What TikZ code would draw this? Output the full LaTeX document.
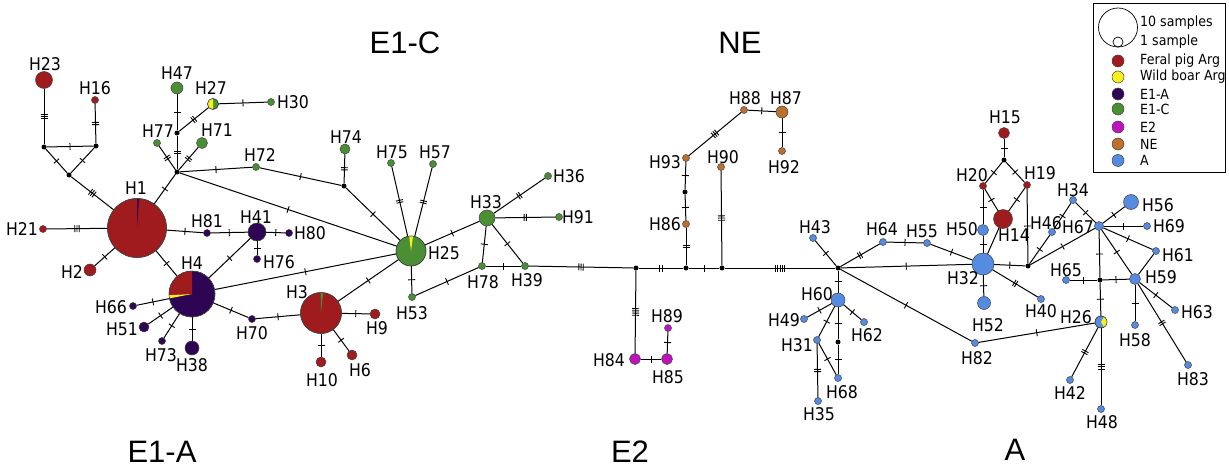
\documentclass[tikz,border=0pt]{standalone}
\usepackage{fontspec}
\setmainfont{DejaVu Sans}
\newfontfamily\hfont[FakeStretch=0.9]{DejaVu Sans}
\newfontfamily\rfont{Liberation Sans}
\definecolor{cRed}{RGB}{160,27,30}
\definecolor{cPur}{RGB}{46,4,84}
\definecolor{cGrn}{RGB}{74,143,52}
\definecolor{cYel}{RGB}{245,240,30}
\definecolor{cMag}{RGB}{190,20,190}
\definecolor{cBrn}{RGB}{190,110,45}
\definecolor{cBlu}{RGB}{85,140,225}
\newcommand\tka{\rule[-3.5pt]{0.9pt}{7pt}}
\newcommand\tkb{\tka\hspace{1.3pt}\tka}
\newcommand\tkc{\tka\hspace{1.3pt}\tka\hspace{1.3pt}\tka}
\newcommand\tkd{\tkb\hspace{1.3pt}\tkb}
\newcommand\tke{\tkd\hspace{1.3pt}\tka}
\tikzset{
  hp/.style={circle,draw=black!75,line width=0.5pt,inner sep=0pt},
  jn/.style={circle,fill=black,inner sep=0pt,minimum size=5pt},
  lb/.style={font=\hfont\fontsize{17.5}{19}\selectfont,inner sep=0pt},
  rg/.style={font=\rfont\fontsize{31}{33}\selectfont,inner sep=0pt},
  lgt/.style={anchor=west,font=\hfont\fontsize{14}{15}\selectfont,inner sep=0pt},
  tk/.style={sloped,allow upside down,inner sep=0pt,outer sep=0pt},
  edge/.style={line width=1pt,black}
}
\newcommand\Hap[5]{\node[hp,fill=#5,minimum size=#4*2pt] (#1) at (#2,#3) {};}
\newcommand\Jn[3]{\node[jn] (#1) at (#2,#3) {};}
\newcommand\Lab[3]{\node[lb] (l#1) at (#2,#3) {#1};}
\newcommand\Ed[3]{\draw[edge] (#1) -- node[tk]{#3} (#2);}
\newcommand\Sl[5]{\fill[#5] (#1.center) -- ++(#2:#4pt) arc[start angle=#2,end angle=#3,radius=#4pt] -- cycle;}
\begin{document}
\begin{tikzpicture}[x=1pt,y=-1pt]
\useasboundingbox (0,0) rectangle (1229,468);
% ---------- left cluster nodes
\Hap{H23}{44}{80}{8.5}{cRed}
\Hap{H16}{95}{100}{3.5}{cRed}
\Jn{J1}{44}{147}
\Jn{J2}{96}{146}
\Jn{J3}{69}{175}
\Hap{H1}{137}{228}{29.5}{cRed}
\Hap{H21}{43}{229}{3.5}{cRed}
\Hap{H2}{90}{270}{6}{cRed}
\Jn{JH}{177}{172}
\Jn{JA}{177}{133}
\Hap{H47}{177}{88}{6}{cGrn}
\Hap{H27}{213}{104}{5.5}{cGrn}
\Hap{H30}{271}{102}{3.5}{cGrn}
\Hap{H77}{157}{143}{3.5}{cGrn}
\Hap{H71}{202}{143}{5.5}{cGrn}
\Hap{H72}{256}{167}{3.5}{cGrn}
\Jn{J74}{344}{186}
\Hap{H74}{345}{149}{5}{cGrn}
\Hap{H25}{411}{251}{15}{cGrn}
\Hap{H75}{391}{163}{3.5}{cGrn}
\Hap{H57}{433}{164}{3.5}{cGrn}
\Hap{H81}{207}{233}{3.5}{cPur}
\Hap{H41}{257}{232}{9}{cPur}
\Hap{H80}{289}{233}{3.5}{cPur}
\Hap{H76}{257}{259}{3.5}{cPur}
\Hap{H4}{192}{294}{23}{cPur}
\Hap{H66}{133}{306}{3.5}{cPur}
\Hap{H51}{144}{327}{5}{cPur}
\Hap{H73}{162}{341}{3.5}{cPur}
\Hap{H38}{192}{348}{7}{cPur}
\Hap{H70}{252}{319}{3.5}{cPur}
\Hap{H3}{321}{313}{20.5}{cRed}
\Hap{H9}{375}{314}{5}{cRed}
\Hap{H10}{321}{362}{5}{cRed}
\Hap{H6}{352}{355}{5}{cRed}
\Hap{H53}{412}{297}{3.5}{cGrn}
\Hap{H78}{482}{266}{3.5}{cGrn}
\Hap{H39}{525}{266}{3.5}{cGrn}
\Hap{H33}{487}{218}{8}{cGrn}
\Hap{H36}{548}{176}{3.5}{cGrn}
\Hap{H91}{559}{217}{3.5}{cGrn}
% ---------- middle
\Jn{Ja}{636}{268}
\Jn{Jb}{686}{268}
\Jn{Jc}{722}{268}
\Hap{H84}{635}{359}{5.5}{cMag}
\Hap{H85}{667}{359}{5.5}{cMag}
\Hap{H89}{668}{328}{3.5}{cMag}
\Hap{H86}{686}{224}{3.5}{cBrn}
\Jn{Jd}{685}{192}
\Hap{H93}{686}{158}{3.5}{cBrn}
\Hap{H90}{721}{167}{3.5}{cBrn}
\Hap{H88}{744}{110}{3.5}{cBrn}
\Hap{H87}{782}{112}{6}{cBrn}
\Hap{H92}{782}{151}{3.5}{cBrn}
% ---------- right cluster
\Jn{Jr}{838}{268}
\Hap{H43}{813}{238}{3.5}{cBlu}
\Hap{H64}{883}{242}{3.5}{cBlu}
\Hap{H55}{927}{243}{3.5}{cBlu}
\Hap{H32}{983}{264}{11}{cBlu}
\Hap{H50}{983}{230}{5.5}{cBlu}
\Hap{H52}{984}{303}{6.5}{cBlu}
\Hap{H20}{983}{186}{3.5}{cRed}
\Jn{Jt}{1004}{160}
\Hap{H15}{1004}{133}{5.5}{cRed}
\Hap{H19}{1027}{185}{3.5}{cRed}
\Hap{H14}{1003}{219}{9.5}{cRed}
\Jn{Je}{1028}{266}
\Hap{H40}{1041}{299}{3.5}{cBlu}
\Hap{H60}{838}{300}{7}{cBlu}
\Hap{H49}{804}{319}{3.5}{cBlu}
\Hap{H62}{864}{322}{3.5}{cBlu}
\Hap{H31}{817}{340}{3.5}{cBlu}
\Jn{Jf}{838}{342}
\Hap{H68}{838}{378}{3.5}{cBlu}
\Hap{H35}{818}{401}{3.5}{cBlu}
\Hap{H82}{975}{343}{3.5}{cBlu}
\Hap{H46}{1052}{232}{3.5}{cBlu}
\Hap{H34}{1073}{200}{3.5}{cBlu}
\Hap{H67}{1099}{226}{4.5}{cBlu}
\Hap{H56}{1131}{202}{7.5}{cBlu}
\Hap{H69}{1147}{226}{3.5}{cBlu}
\Hap{H61}{1156}{251}{3.5}{cBlu}
\Hap{H59}{1135}{279}{5.5}{cBlu}
\Jn{Jg}{1100}{280}
\Hap{H65}{1066}{280}{3.5}{cBlu}
\Hap{H26}{1101}{322}{6}{cBlu}
\Hap{H63}{1175}{310}{3.5}{cBlu}
\Hap{H58}{1135}{325}{3.5}{cBlu}
\Hap{H83}{1188}{365}{3.5}{cBlu}
\Hap{H42}{1070}{380}{3.5}{cBlu}
\Hap{H48}{1101}{409}{3.5}{cBlu}
% ---------- pie slices
\Sl{H1}{86}{90}{29.5}{cPur}
\Sl{H25}{82}{97}{15}{cYel}
\Sl{H3}{84}{91}{20.5}{cGrn}
\Sl{H4}{90}{183}{23}{cRed}
\Sl{H4}{183}{191}{23}{cYel}
\Sl{H27}{90}{270}{5.5}{cYel}
\Sl{H26}{-60}{60}{6}{cYel}
\foreach \n/\r in {H1/29.5,H25/15,H3/20.5,H4/23,H27/5.5,H26/6}
  \draw[black!75,line width=0.5pt] (\n.center) circle[radius=\r pt];
% ---------- edges left
\Ed{H23}{J1}{\tkc}
\Ed{H16}{J2}{\tkb}
\Ed{J1}{J2}{\tka}
\Ed{J1}{J3}{\tka}
\Ed{J2}{J3}{\tka}
\Ed{J3}{H1}{\tkc}
\Ed{H21}{H1}{\tkc}
\Ed{H1}{H2}{\tka}
\Ed{H1}{JH}{\tka}
\Ed{JH}{JA}{\tkb}
\Ed{JA}{H47}{\tka}
\Ed{JA}{H27}{\tkb}
\Ed{H27}{H30}{\tka}
\Ed{JH}{H77}{\tkb}
\Ed{JH}{H71}{\tkb}
\Ed{JH}{H72}{\tka}
\Ed{H72}{J74}{\tka}
\Ed{J74}{H74}{\tkb}
\Ed{J74}{H25}{\tka}
\Ed{JH}{H25}{\tka}
\Ed{H75}{H25}{\tkb}
\Ed{H57}{H25}{\tkb}
\Ed{H1}{H81}{\tka}
\Ed{H81}{H41}{\tka}
\Ed{H41}{H80}{\tka}
\Ed{H41}{H76}{\tka}
\Ed{H1}{H4}{\tka}
\Ed{H4}{H41}{\tka}
\Ed{H4}{H25}{\tka}
\Ed{H4}{H66}{\tka}
\Ed{H4}{H51}{\tka}
\Ed{H4}{H73}{\tka}
\Ed{H4}{H38}{\tka}
\Ed{H4}{H70}{\tka}
\Ed{H70}{H3}{\tka}
\Ed{H3}{H25}{\tka}
\Ed{H3}{H9}{\tka}
\Ed{H3}{H10}{\tka}
\Ed{H3}{H6}{\tka}
\Ed{H25}{H53}{\tka}
\Ed{H53}{H78}{\tka}
\Ed{H25}{H33}{\tka}
\Ed{H33}{H78}{\tka}
\Ed{H78}{H39}{\tka}
\Ed{H33}{H39}{\tka}
\Ed{H33}{H36}{\tkb}
\Ed{H33}{H91}{\tkb}
% ---------- edges middle
\Ed{H39}{Ja}{\tkc}
\Ed{Ja}{H84}{\tkd}
\Ed{H84}{H85}{\tka}
\Ed{H85}{H89}{\tka}
\Ed{Ja}{Jb}{\tkb}
\Ed{Jb}{H86}{\tkb}
\Ed{H86}{Jd}{\tka}
\Ed{Jd}{H93}{\tka}
\Ed{H93}{H88}{\tkc}
\Ed{H88}{H87}{\tka}
\Ed{H87}{H92}{\tka}
\Ed{Jb}{Jc}{\tka}
\Ed{Jc}{H90}{\tkc}
\Ed{Jc}{Jr}{\tke}
% ---------- edges right
\Ed{Jr}{H43}{\tka}
\Ed{Jr}{H64}{\tkb}
\Ed{H64}{H55}{\tka}
\Ed{H55}{H32}{\tka}
\Ed{Jr}{H32}{\tka}
\Ed{H32}{H50}{\tka}
\Ed{H32}{H52}{\tka}
\Ed{H50}{H20}{\tka}
\Ed{H20}{Jt}{\tka}
\Ed{Jt}{H15}{\tka}
\Ed{Jt}{H19}{\tka}
\Ed{H20}{H14}{\tka}
\Ed{H19}{H14}{\tka}
\Ed{H14}{H32}{}
\Ed{H19}{Je}{\tka}
\Ed{H32}{Je}{\tka}
\Ed{H32}{H40}{\tkb}
\Ed{Jr}{H60}{\tka}
\Ed{H60}{H49}{\tka}
\Ed{H60}{H62}{\tka}
\Ed{H60}{H31}{\tka}
\Ed{H60}{Jf}{\tka}
\Ed{Jf}{H68}{\tka}
\Ed{H31}{H68}{\tka}
\Ed{H31}{H35}{\tkb}
\Ed{Jr}{H82}{\tka}
\Ed{H82}{H26}{\tka}
\Ed{Je}{H46}{\tka}
\Ed{H46}{H34}{\tka}
\Ed{H34}{H67}{\tka}
\Ed{Je}{H67}{\tka}
\Ed{H67}{H56}{\tka}
\Ed{H67}{H69}{\tka}
\Ed{H67}{H61}{\tka}
\Ed{H61}{H59}{}
\Ed{H67}{H59}{\tka}
\Ed{H67}{Jg}{\tka}
\Ed{Jg}{H59}{\tka}
\Ed{H65}{Jg}{\tka}
\Ed{Jg}{H26}{\tka}
\Ed{H59}{H63}{\tka}
\Ed{H59}{H58}{\tka}
\Ed{H59}{H83}{\tkb}
\Ed{H26}{H42}{\tkb}
\Ed{H26}{H48}{\tkc}
% ---------- labels
\Lab{H23}{45}{64}
\Lab{H16}{95}{88}
\Lab{H1}{136}{188}
\Lab{H21}{22}{229}
\Lab{H2}{72}{272}
\Lab{H47}{177}{73}
\Lab{H27}{211}{88}
\Lab{H30}{293}{102}
\Lab{H77}{158}{131}
\Lab{H71}{217}{130}
\Lab{H72}{260}{155}
\Lab{H74}{346}{137}
\Lab{H75}{392}{152}
\Lab{H57}{435}{152}
\Lab{H25}{444}{253}
\Lab{H81}{207}{221}
\Lab{H41}{256}{217}
\Lab{H80}{310}{233}
\Lab{H76}{279}{262}
\Lab{H4}{192}{263}
\Lab{H66}{111}{307}
\Lab{H51}{122}{329}
\Lab{H73}{161}{355}
\Lab{H38}{192}{365}
\Lab{H70}{252}{333}
\Lab{H3}{297}{292}
\Lab{H9}{377}{328}
\Lab{H10}{322}{380}
\Lab{H6}{360}{370}
\Lab{H53}{412}{313}
\Lab{H78}{483}{282}
\Lab{H39}{527}{280}
\Lab{H33}{486}{202}
\Lab{H36}{569}{176}
\Lab{H91}{578}{217}
\Lab{H84}{609}{360}
\Lab{H85}{668}{377}
\Lab{H89}{667}{316}
\Lab{H86}{665}{224}
\Lab{H93}{665}{162}
\Lab{H90}{723}{157}
\Lab{H88}{745}{98}
\Lab{H87}{786}{98}
\Lab{H92}{784}{167}
\Lab{H43}{815}{227}
\Lab{H64}{882}{229}
\Lab{H55}{922}{231}
\Lab{H32}{963}{278}
\Lab{H50}{962}{229}
\Lab{H52}{988}{325}
\Lab{H20}{972}{175}
\Lab{H15}{1005}{117}
\Lab{H19}{1040}{173}
\Lab{H14}{1014}{235}
\Lab{H40}{1041}{311}
\Lab{H60}{817}{294}
\Lab{H49}{784}{320}
\Lab{H62}{867}{335}
\Lab{H31}{797}{345}
\Lab{H68}{842}{392}
\Lab{H35}{819}{414}
\Lab{H82}{977}{358}
\Lab{H46}{1046}{223}
\Lab{H34}{1073}{190}
\Lab{H67}{1078}{227}
\Lab{H56}{1158}{205}
\Lab{H69}{1169}{226}
\Lab{H61}{1178}{255}
\Lab{H59}{1161}{277}
\Lab{H65}{1066}{270}
\Lab{H26}{1076}{317}
\Lab{H63}{1197}{312}
\Lab{H58}{1135}{340}
\Lab{H83}{1193}{379}
\Lab{H42}{1070}{393}
\Lab{H48}{1102}{422}
% ---------- region labels
\node[rg] (rE1C) at (405,43) {E1-C};
\node[rg] (rNE) at (740,43) {NE};
\node[rg] (rE1A) at (162,452) {E1-A};
\node[rg] (rE2) at (630,452) {E2};
\node[rg] (rA) at (1015,450) {A};
% ---------- legend
\node[draw,line width=0.8pt,inner sep=0pt,minimum width=132pt,minimum height=169pt] (leg) at (1159,87.5) {};
\node[circle,draw,line width=0.7pt,inner sep=0pt,minimum size=39pt] (lg10) at (1118,27.5) {};
\node[circle,draw,line width=0.7pt,inner sep=0pt,minimum size=10pt] (lg1) at (1118,42) {};
\node[lgt] (t10) at (1140,23) {10 samples};
\node[lgt] (t1) at (1140,42) {1 sample};
\foreach \c/\y/\t [count=\i] in {cRed/61/Feral pig Arg,cYel/77/Wild boar Arg,cPur/94/E1-A,cGrn/109/E1-C,cMag/127/E2,cBrn/144/NE,cBlu/160.5/A}{
  \node[hp,fill=\c,minimum size=12pt] (ld\i) at (1118,\y) {};
  \node[lgt] (lt\i) at (1140,\y) {\t};
}
\end{tikzpicture}
\end{document}
